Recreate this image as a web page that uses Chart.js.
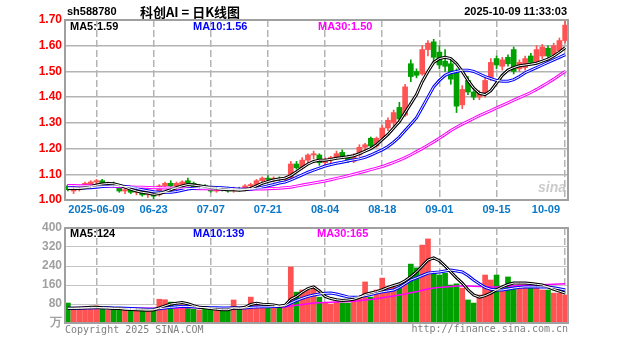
<!DOCTYPE html>
<html>
<head>
<meta charset="utf-8">
<script src="https://cdn.jsdelivr.net/npm/chart.js@4.4.1/dist/chart.umd.min.js"></script>
<style>
  body { margin: 0; background: #fff; }
  #wrap { position: relative; width: 627px; height: 342px; }
  canvas { position: absolute; left: 0; }
  #priceChart { top: 0; }
  #volChart { top: 215px; }
</style>
</head>
<body>
<div id="wrap">
  <canvas id="priceChart" width="627" height="215"></canvas>
  <canvas id="volChart" width="627" height="127"></canvas>
</div>
<script>
const year = '2025';
const dates = [
  '05-30','06-03','06-04','06-05','06-06',
  '06-09','06-10','06-11','06-12','06-13',
  '06-16','06-17','06-18','06-19','06-20',
  '06-23','06-24','06-25','06-26','06-27',
  '06-30','07-01','07-02','07-03','07-04',
  '07-07','07-08','07-09','07-10','07-11',
  '07-14','07-15','07-16','07-17','07-18',
  '07-21','07-22','07-23','07-24','07-25',
  '07-28','07-29','07-30','07-31','08-01',
  '08-04','08-05','08-06','08-07','08-08',
  '08-11','08-12','08-13','08-14','08-15',
  '08-18','08-19','08-20','08-21','08-22',
  '08-25','08-26','08-27','08-28','08-29',
  '09-01','09-02','09-03','09-04','09-05',
  '09-08','09-09','09-10','09-11','09-12',
  '09-15','09-16','09-17','09-18','09-19',
  '09-22','09-23','09-24','09-25','09-26',
  '09-29','09-30','10-09'
];
const tickDates = ['06-09','06-23','07-07','07-21','08-04','08-18','09-01','09-15','10-09'];
const priceTicks = [1.00, 1.10, 1.20, 1.30, 1.40, 1.50, 1.60, 1.70];
const volTicks = [0, 80, 160, 240, 320, 400];

const openP = [
  1.055,1.035,1.040,1.050,1.060, 1.070,1.075,1.060,1.065,1.055,
  1.035,1.040,1.030,1.035,1.020, 1.025,1.020,1.055,1.065,1.055,
  1.060,1.075,1.065,1.050,1.055, 1.045,1.035,1.045,1.045,1.035,
  1.045,1.040,1.055,1.060,1.075, 1.085,1.080,1.085,1.080,1.085,
  1.140,1.125,1.155,1.175,1.175, 1.145,1.155,1.165,1.185,1.170,
  1.150,1.175,1.205,1.240,1.210, 1.240,1.280,1.300,1.360,1.330,
  1.530,1.500,1.490,1.585,1.615, 1.575,1.540,1.530,1.500,1.370,
  1.465,1.420,1.400,1.415,1.470, 1.550,1.520,1.555,1.585,1.510,
  1.515,1.560,1.535,1.560,1.590, 1.565,1.580,1.620
];
const highP = [
  1.060,1.045,1.055,1.070,1.075, 1.080,1.080,1.070,1.070,1.060,
  1.045,1.045,1.040,1.040,1.030, 1.030,1.060,1.070,1.075,1.070,
  1.075,1.085,1.070,1.060,1.060, 1.050,1.050,1.050,1.050,1.050,
  1.050,1.060,1.065,1.080,1.090, 1.095,1.090,1.090,1.090,1.150,
  1.150,1.165,1.180,1.190,1.180, 1.165,1.170,1.190,1.195,1.175,
  1.180,1.215,1.220,1.245,1.245, 1.290,1.320,1.350,1.380,1.450,
  1.545,1.510,1.600,1.620,1.625, 1.600,1.585,1.550,1.510,1.445,
  1.480,1.425,1.425,1.475,1.550, 1.560,1.555,1.565,1.595,1.545,
  1.560,1.570,1.600,1.605,1.600, 1.610,1.630,1.695
];
const lowP = [
  1.035,1.025,1.035,1.045,1.055, 1.060,1.055,1.050,1.050,1.030,
  1.025,1.025,1.020,1.015,1.010, 1.005,1.015,1.050,1.050,1.045,
  1.050,1.060,1.045,1.045,1.040, 1.030,1.030,1.035,1.030,1.030,
  1.035,1.035,1.045,1.055,1.065, 1.075,1.070,1.075,1.070,1.080,
  1.120,1.120,1.145,1.160,1.135, 1.135,1.145,1.160,1.165,1.145,
  1.145,1.170,1.195,1.205,1.205, 1.235,1.270,1.285,1.300,1.325,
  1.460,1.475,1.485,1.560,1.540, 1.510,1.500,1.450,1.340,1.355,
  1.410,1.390,1.390,1.400,1.465, 1.510,1.505,1.520,1.490,1.500,
  1.505,1.530,1.530,1.550,1.550, 1.560,1.575,1.610
];
const closeP = [
  1.040,1.040,1.050,1.065,1.070, 1.075,1.060,1.065,1.055,1.035,
  1.040,1.030,1.035,1.020,1.025, 1.015,1.055,1.065,1.055,1.065,
  1.070,1.065,1.050,1.055,1.045, 1.035,1.045,1.040,1.035,1.045,
  1.040,1.055,1.060,1.075,1.085, 1.080,1.085,1.080,1.085,1.140,
  1.125,1.155,1.175,1.180,1.145, 1.155,1.165,1.180,1.170,1.150,
  1.175,1.205,1.215,1.210,1.240, 1.280,1.310,1.340,1.315,1.440,
  1.480,1.485,1.585,1.610,1.555, 1.525,1.520,1.470,1.365,1.430,
  1.420,1.400,1.415,1.465,1.535, 1.525,1.545,1.530,1.500,1.535,
  1.550,1.535,1.585,1.595,1.560, 1.600,1.620,1.680
];
const ma5 = [
  1.045,1.045,1.045,1.048,1.052, 1.058,1.062,1.064,1.063,1.058,
  1.050,1.042,1.035,1.030,1.027, 1.022,1.025,1.032,1.040,1.048,
  1.055,1.060,1.058,1.055,1.052, 1.048,1.045,1.042,1.040,1.040,
  1.038,1.040,1.045,1.055,1.065, 1.072,1.078,1.082,1.085,1.095,
  1.110,1.125,1.140,1.150,1.155, 1.155,1.158,1.162,1.165,1.168,
  1.172,1.180,1.190,1.200,1.215, 1.235,1.255,1.280,1.305,1.340,
  1.375,1.410,1.460,1.500,1.535, 1.550,1.555,1.550,1.530,1.500,
  1.465,1.435,1.415,1.410,1.425, 1.455,1.485,1.505,1.515,1.522,
  1.525,1.528,1.532,1.540,1.548, 1.560,1.575,1.592
];
const ma10 = [
  1.048,1.048,1.047,1.047,1.048, 1.050,1.052,1.054,1.055,1.055,
  1.053,1.050,1.045,1.040,1.036, 1.032,1.030,1.030,1.030,1.033,
  1.038,1.043,1.046,1.048,1.050, 1.050,1.049,1.048,1.046,1.044,
  1.042,1.042,1.043,1.046,1.050, 1.055,1.060,1.066,1.070,1.078,
  1.088,1.098,1.108,1.116,1.124, 1.132,1.138,1.143,1.147,1.152,
  1.156,1.160,1.166,1.175,1.185, 1.195,1.208,1.225,1.245,1.270,
  1.295,1.320,1.360,1.400,1.440, 1.465,1.485,1.495,1.500,1.505,
  1.505,1.500,1.490,1.480,1.472, 1.465,1.462,1.462,1.468,1.480,
  1.495,1.505,1.515,1.525,1.535, 1.545,1.555,1.565
];
const ma30 = [
  1.056,1.056,1.055,1.055,1.055, 1.054,1.054,1.053,1.053,1.052,
  1.052,1.051,1.050,1.050,1.049, 1.048,1.048,1.047,1.047,1.046,
  1.046,1.045,1.045,1.044,1.044, 1.043,1.043,1.042,1.042,1.042,
  1.042,1.042,1.042,1.043,1.043, 1.044,1.045,1.046,1.048,1.050,
  1.054,1.058,1.062,1.066,1.070, 1.074,1.079,1.084,1.089,1.094,
  1.100,1.106,1.112,1.118,1.124, 1.130,1.138,1.146,1.155,1.165,
  1.176,1.188,1.200,1.213,1.226, 1.240,1.255,1.270,1.283,1.295,
  1.306,1.317,1.328,1.338,1.348, 1.358,1.368,1.378,1.388,1.398,
  1.408,1.418,1.430,1.443,1.456, 1.470,1.485,1.500
];
const volume = [
  84,66,62,70,58, 72,60,55,58,62,
  56,52,58,50,55, 60,100,98,88,70,
  76,72,58,55,60, 62,52,50,55,97,
  58,70,109,80,70, 64,66,68,72,236,
  130,139,139,152,109, 84,80,88,84,84,
  100,105,173,109,139, 189,152,152,152,173,
  248,232,328,354,210, 202,210,160,165,147,
  97,84,118,202,181, 202,139,194,152,160,
  160,152,152,139,139, 126,126,118
];
const volMa5 = [
  62,62,63,64,66, 66,64,63,61,61,
  58,57,56,55,54, 55,64,72,80,83,
  86,81,73,66,64, 61,58,56,56,63,
  62,66,78,83,79, 78,76,71,75,100,
  112,130,145,152,135, 112,103,98,95,97,
  100,108,120,126,132, 140,150,158,165,178,
  195,215,240,265,274, 262,240,215,190,168,
  140,118,109,115,126, 140,152,162,168,168,
  168,166,163,160,152, 142,134,126
];
const volMa10 = [
  62,62,62,63,63, 64,64,64,63,63,
  62,61,60,59,58, 58,60,63,66,68,
  70,70,68,66,65, 64,64,63,63,64,
  63,63,66,67,68, 68,69,70,72,84,
  95,104,112,118,122, 125,126,122,116,110,
  108,110,115,120,126, 131,135,139,150,165,
  181,190,200,210,213, 215,219,223,219,215,
  200,181,165,150,142, 139,139,143,147,150,
  152,152,152,152,152, 148,144,139
];
const volMa30 = [
  64,64,64,63,63, 63,63,63,62,62,
  62,62,62,62,62, 62,63,63,63,63,
  64,64,64,64,64, 64,64,64,64,65,
  65,65,66,66,66, 66,66,66,67,72,
  75,78,81,84,85, 86,87,88,89,90,
  92,94,97,99,102, 106,110,114,118,122,
  127,132,138,143,147, 150,152,154,156,156,
  156,155,154,153,152, 152,153,155,157,158,
  159,160,160,161,162, 163,164,165
];

const RED = '#ff5252';
const GREEN = '#00a000';
const candleColors = closeP.map((c, i) => c >= openP[i] ? RED : GREEN);
const markIdx = tickDates.map(d => dates.indexOf(d));
const FONT = '"Liberation Sans", Arial, sans-serif';

function xAxis() {
  return {
    offset: true,
    grid: {
      offset: false, drawTicks: false, lineWidth: 1.5,
      color: c => markIdx.includes(c.index) ? '#b4b4b4' : 'rgba(0,0,0,0)'
    },
    border: { display: false, dash: [7, 3] },
    ticks: { display: false, autoSkip: false },
    afterFit: s => { s.height = 0; }
  };
}

function maLine(data, color, width, order) {
  return { type: 'line', data: data, borderColor: color, borderWidth: width,
    pointRadius: 0, tension: 0, fill: false, order: order };
}

const priceDeco = {
  id: 'priceDeco',
  afterDraw(chart) {
    const { ctx, chartArea: a, scales: { x } } = chart;
    ctx.save();
    ctx.strokeStyle = '#a0a0a0';
    ctx.lineWidth = 2;
    ctx.strokeRect(a.left, a.top, a.right - a.left, a.bottom - a.top);

    ctx.textBaseline = 'middle';
    ctx.font = 'bold 11px ' + FONT;
    ctx.fillStyle = '#0a78c8';
    tickDates.forEach((d, k) => {
      const px = x.getPixelForValue(dates.indexOf(d));
      let text = d, tx = px;
      ctx.textAlign = 'center';
      if (k === 0) { text = year + '-' + d; }
      if (k === tickDates.length - 1) { ctx.textAlign = 'right'; tx = a.right - 8; }
      ctx.fillText(text, tx, a.bottom + 10);
    });

    // header
    ctx.textAlign = 'left';
    ctx.fillStyle = '#000';
    ctx.font = 'bold 11px ' + FONT;
    ctx.fillText('sh588780', 67, 12);
    ctx.font = 'bold 13px "Noto Sans CJK SC", sans-serif';
    ctx.fillText('科创AI = 日K线图', 140, 12);
    ctx.font = 'bold 11px ' + FONT;
    ctx.textAlign = 'right';
    ctx.fillText('2025-10-09 11:33:03', 567, 12);

    // legend
    ctx.textAlign = 'left';
    ctx.font = 'bold 11px ' + FONT;
    ctx.fillStyle = '#000'; ctx.fillText('MA5:1.59', 70, 27);
    ctx.fillStyle = '#0000ff'; ctx.fillText('MA10:1.56', 193, 27);
    ctx.fillStyle = '#ff00ff'; ctx.fillText('MA30:1.50', 318, 27);

    // watermark
    ctx.fillStyle = 'rgba(190,190,190,0.8)';
    ctx.font = 'italic bold 14px ' + FONT;
    ctx.textAlign = 'right';
    ctx.fillText('sina', a.right - 2, a.bottom - 12);
    ctx.restore();
  }
};

const volDeco = {
  id: 'volDeco',
  afterDraw(chart) {
    const { ctx, chartArea: a } = chart;
    ctx.save();
    ctx.strokeStyle = '#a0a0a0';
    ctx.lineWidth = 2;
    ctx.strokeRect(a.left, a.top, a.right - a.left, a.bottom - a.top);
    ctx.textBaseline = 'middle';
    ctx.textAlign = 'left';
    ctx.font = 'bold 11px ' + FONT;
    ctx.fillStyle = '#000'; ctx.fillText('MA5:124', 70, a.top + 6);
    ctx.fillStyle = '#0000ff'; ctx.fillText('MA10:139', 193, a.top + 6);
    ctx.fillStyle = '#ff00ff'; ctx.fillText('MA30:165', 317, a.top + 6);
    ctx.fillStyle = '#808080';
    ctx.font = '10px "DejaVu Sans Mono", monospace';
    ctx.fillText('Copyright 2025 SINA.COM', a.left, a.bottom + 7);
    ctx.textAlign = 'right';
    ctx.fillText('http://finance.sina.com.cn', a.right, a.bottom + 6);
    ctx.restore();
  }
};

new Chart(document.getElementById('priceChart'), {
  type: 'bar',
  data: {
    labels: dates,
    datasets: [
      maLine(ma5, '#ffffff', 1, -1),
      maLine(ma10, '#ffffff', 1, -1),
      maLine(ma30, '#ffffff', 1, -1),
      maLine(ma5, '#000000', 3, 0),
      maLine(ma10, '#0000ff', 3, 0),
      maLine(ma30, '#ff00ff', 3, 0),
      {
        data: dates.map((d, i) => [Math.min(openP[i], closeP[i]), Math.max(openP[i], closeP[i])]),
        backgroundColor: candleColors, borderWidth: 0,
        barThickness: 5, minBarLength: 1, grouped: false, order: 1
      },
      {
        data: dates.map((d, i) => [lowP[i], highP[i]]),
        backgroundColor: candleColors, borderWidth: 0,
        barThickness: 1, grouped: false, order: 2
      }
    ]
  },
  options: {
    responsive: false,
    animation: false,
    layout: { padding: { left: 0, right: 59, top: 20, bottom: 15 } },
    plugins: { legend: { display: false }, tooltip: { enabled: false } },
    scales: {
      x: xAxis(),
      y: {
        min: priceTicks[0], max: priceTicks[priceTicks.length - 1],
        afterBuildTicks: s => { s.ticks = priceTicks.map(v => ({ value: v })); },
        ticks: { color: '#ff0000', font: { family: FONT, size: 12, weight: 'bold' }, padding: 3,
          callback: v => v.toFixed(2) },
        grid: { color: '#b4b4b4', lineWidth: 1.5, drawTicks: false },
        border: { display: false },
        afterFit: s => { s.width = 65; }
      }
    }
  },
  plugins: [priceDeco]
});

new Chart(document.getElementById('volChart'), {
  type: 'bar',
  data: {
    labels: dates,
    datasets: [
      maLine(volMa5, '#ffffff', 1, -1),
      maLine(volMa10, '#ffffff', 1, -1),
      maLine(volMa5, '#000000', 3, 0),
      maLine(volMa10, '#0000ff', 3, 0),
      maLine(volMa30, '#ff00ff', 1.5, 0),
      {
        data: volume, backgroundColor: candleColors, borderWidth: 0,
        barThickness: 5, order: 1
      }
    ]
  },
  options: {
    responsive: false,
    animation: false,
    layout: { padding: { left: 0, right: 59, top: 13, bottom: 19 } },
    plugins: { legend: { display: false }, tooltip: { enabled: false } },
    scales: {
      x: xAxis(),
      y: {
        min: volTicks[0], max: volTicks[volTicks.length - 1],
        afterBuildTicks: s => { s.ticks = volTicks.map(v => ({ value: v })); },
        ticks: { color: '#a0a0a0', font: { family: FONT, size: 12, weight: 'bold' }, padding: 3,
          callback: v => v === 0 ? '万' : v },
        grid: { color: '#c4c4c4', lineWidth: 1, drawTicks: false },
        border: { display: false },
        afterFit: s => { s.width = 65; }
      }
    }
  },
  plugins: [volDeco]
});
</script>
</body>
</html>
